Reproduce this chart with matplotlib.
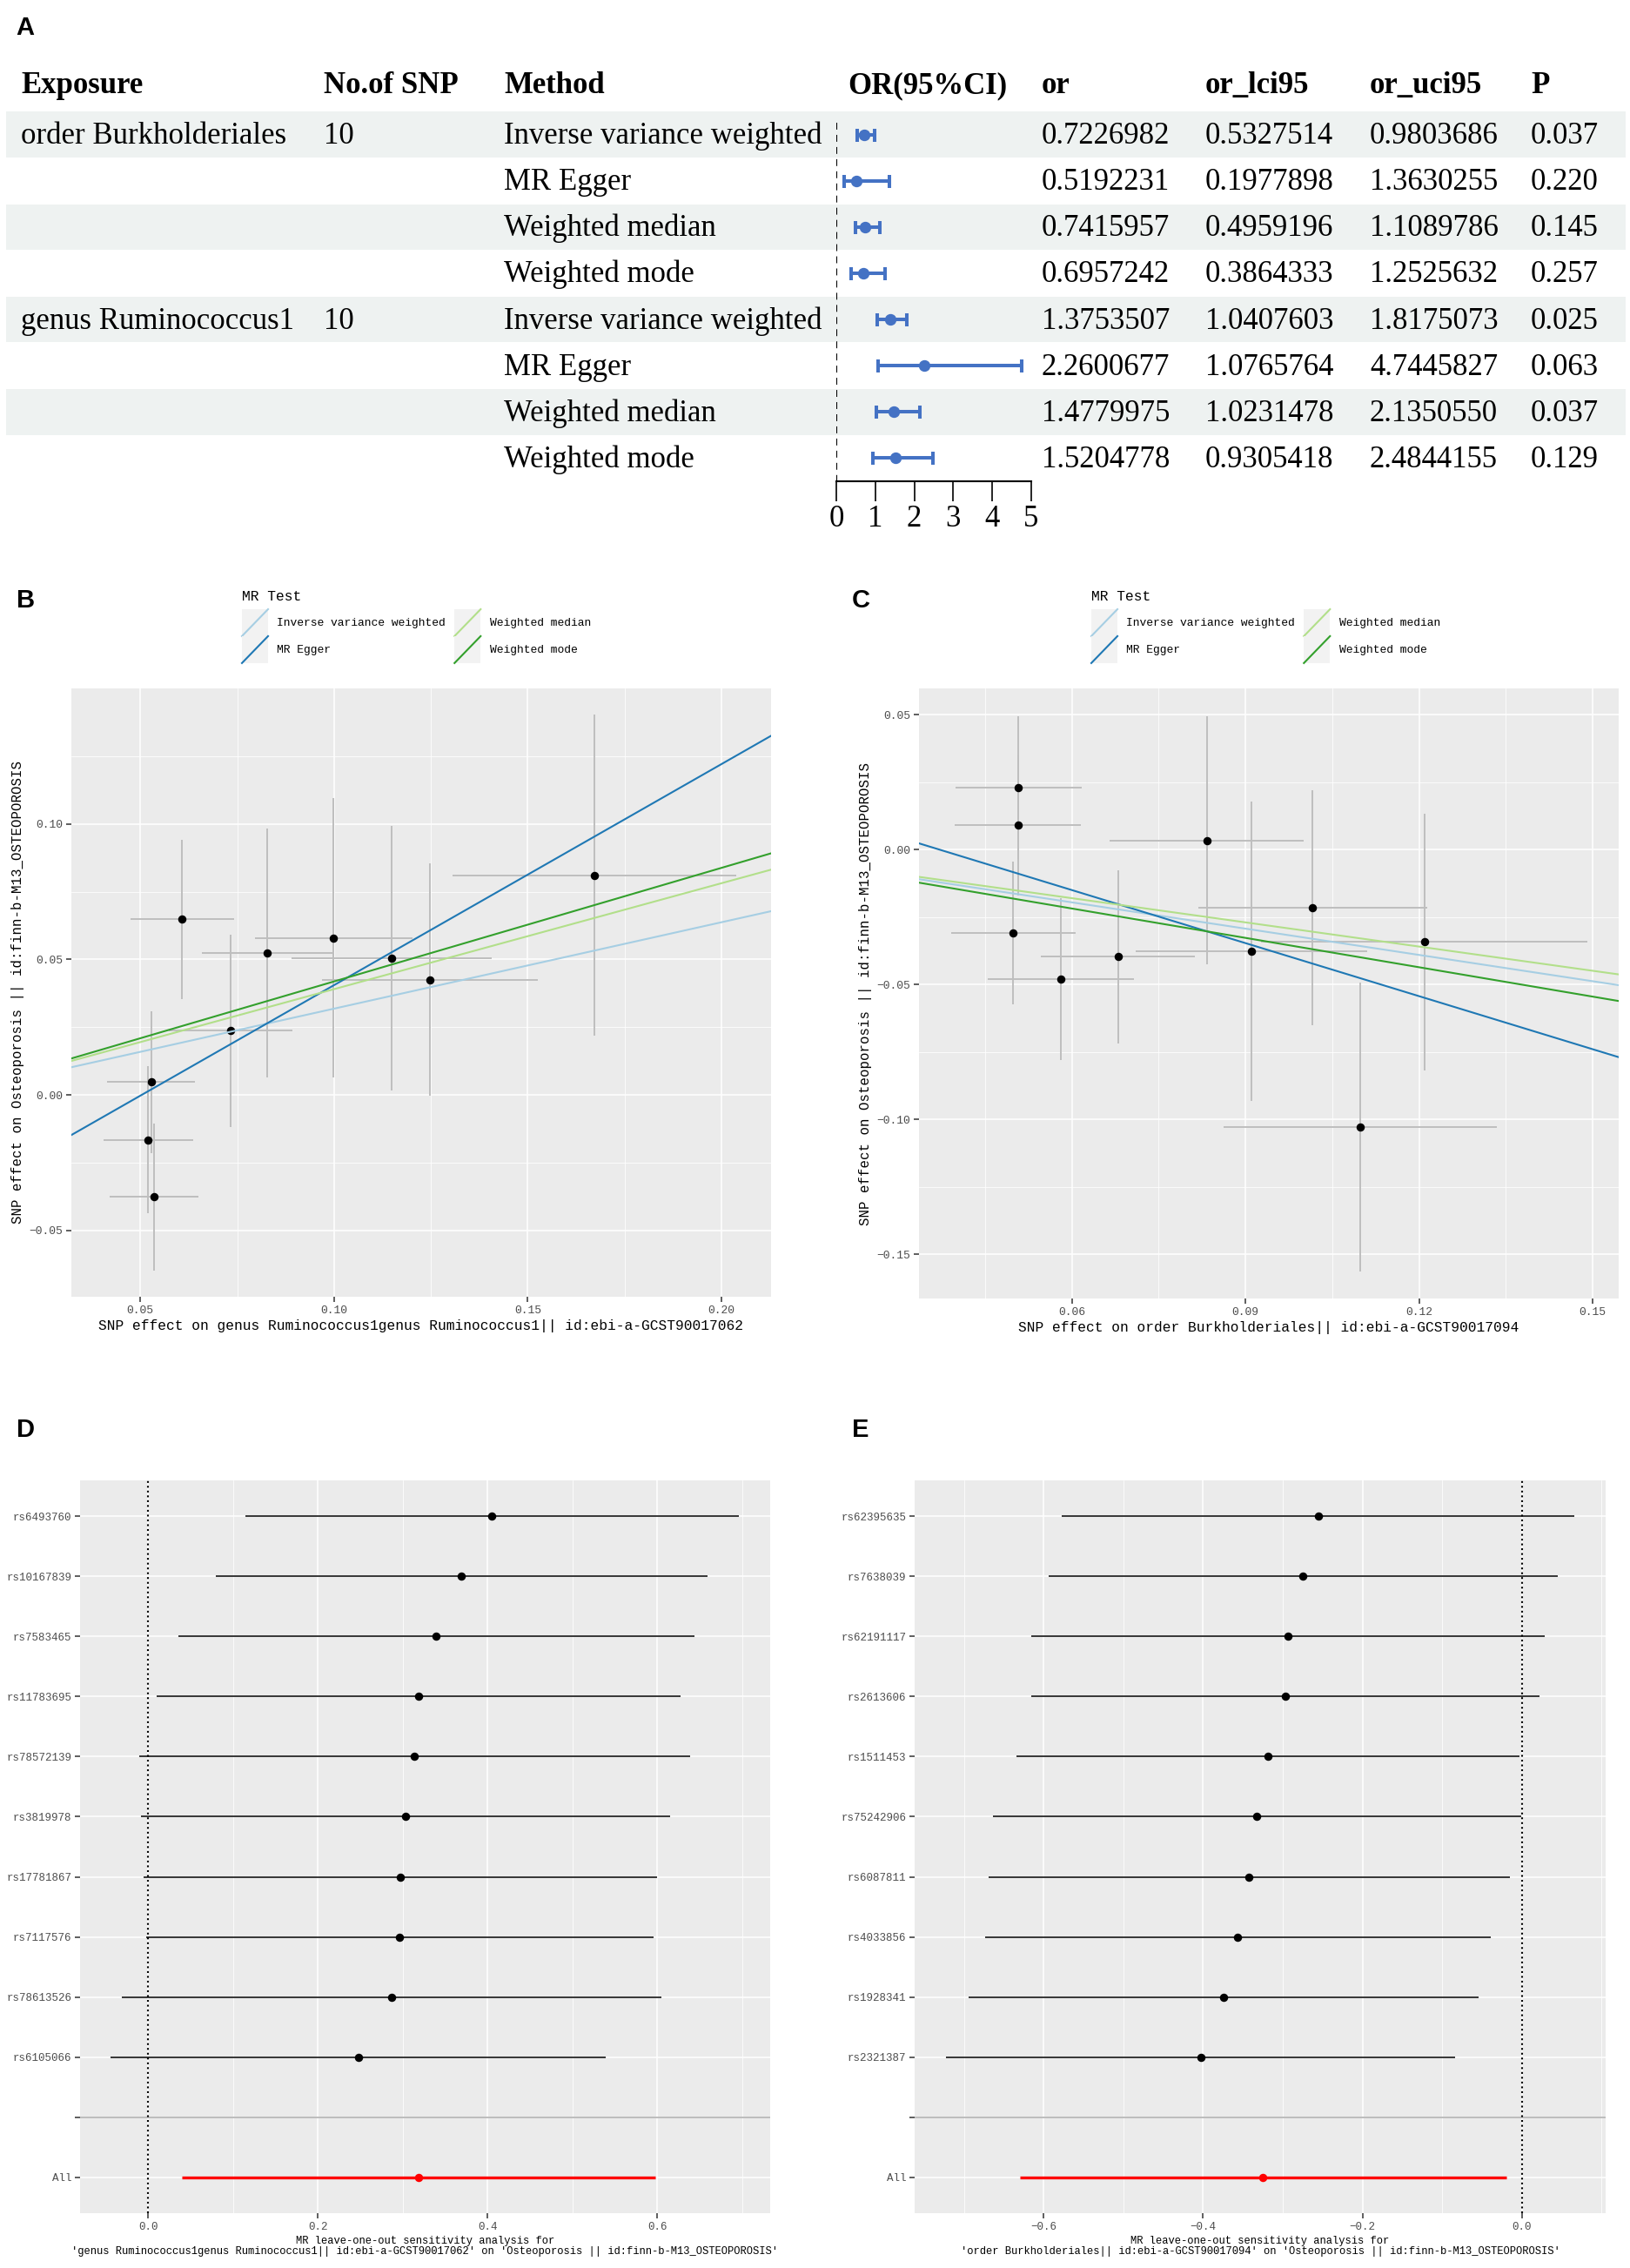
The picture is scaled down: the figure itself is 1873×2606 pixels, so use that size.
import numpy as np
import matplotlib
matplotlib.use('Agg')
import matplotlib.pyplot as plt
from matplotlib.patches import Rectangle
from matplotlib.lines import Line2D
from matplotlib.legend_handler import HandlerBase

W, H = 1874, 2606
SERIF = 'Liberation Serif'
MONO = 'Liberation Mono'
SANS = 'Liberation Sans'
BLUE = '#4472C4'
FILL = '#EEF2F1'
PANEL = '#EBEBEB'
TICK = '#4D4D4D'
MR_COLORS = ['#A6CEE3', '#1F78B4', '#B2DF8A', '#33A02C']

# ---- panel A: MR results table ----
headers = ['Exposure', 'No.of SNP', 'Method', 'OR(95%CI)', 'or', 'or_lci95', 'or_uci95', 'P']
exposures = ['order Burkholderiales', 'genus Ruminococcus1']
n_snp = [10, 10]
methods = ['Inverse variance weighted', 'MR Egger', 'Weighted median', 'Weighted mode']
or_vals = [0.7226982, 0.5192231, 0.7415957, 0.6957242,
           1.3753507, 2.2600677, 1.4779975, 1.5204778]
or_lci = [0.5327514, 0.1977898, 0.4959196, 0.3864333,
          1.0407603, 1.0765764, 1.0231478, 0.9305418]
or_uci = [0.9803686, 1.3630255, 1.1089786, 1.2525632,
          1.8175073, 4.7445827, 2.1350550, 2.4844155]
p_vals = [0.037, 0.220, 0.145, 0.257, 0.025, 0.063, 0.037, 0.129]

# ---- panel B: scatter, genus Ruminococcus1 ----
b_x = [0.0608, 0.0733, 0.0828, 0.0999, 0.1149, 0.1247, 0.1672, 0.0528, 0.0520, 0.0535]
b_xse = [0.0134, 0.0160, 0.0168, 0.0204, 0.0258, 0.0278, 0.0366, 0.0113, 0.0116, 0.0115]
b_y = [0.0648, 0.0237, 0.0524, 0.0580, 0.0504, 0.0426, 0.0811, 0.0048, -0.0165, -0.0376]
b_yse = [0.0294, 0.0356, 0.0458, 0.0515, 0.0488, 0.0429, 0.0593, 0.0261, 0.0271, 0.0272]
b_egger_int = -0.041

# ---- panel C: scatter, order Burkholderiales ----
c_x = [0.0508, 0.0507, 0.0499, 0.0581, 0.0680, 0.0833, 0.0911, 0.1016, 0.1209, 0.1098]
c_xse = [0.0109, 0.0109, 0.0108, 0.0126, 0.0133, 0.0167, 0.0200, 0.0198, 0.0282, 0.0236]
c_y = [0.0230, 0.0091, -0.0308, -0.0479, -0.0396, 0.0035, -0.0375, -0.0215, -0.0342, -0.1027]
c_yse = [0.0264, 0.0260, 0.0264, 0.0301, 0.0321, 0.0461, 0.0555, 0.0435, 0.0477, 0.0536]
c_egger_int = 0.0244

# ---- panel D: leave-one-out, genus Ruminococcus1 ----
d_snps = ['rs6493760', 'rs10167839', 'rs7583465', 'rs11783695', 'rs78572139',
          'rs3819978', 'rs17781867', 'rs7117576', 'rs78613526', 'rs6105066']
d_b = [0.4053, 0.3690, 0.3394, 0.3184, 0.3141, 0.3037, 0.2969, 0.2963, 0.2870, 0.2482]
d_lo = [0.1146, 0.0795, 0.0357, 0.0099, -0.0099, -0.0080, -0.0049, -0.0025, -0.0308, -0.0437]
d_hi = [0.6960, 0.6591, 0.6437, 0.6277, 0.6387, 0.6153, 0.5993, 0.5956, 0.6049, 0.5390]

# ---- panel E: leave-one-out, order Burkholderiales ----
e_snps = ['rs62395635', 'rs7638039', 'rs62191117', 'rs2613606', 'rs1511453',
          'rs75242906', 'rs6087811', 'rs4033856', 'rs1928341', 'rs2321387']
e_b = [-0.2557, -0.2746, -0.2935, -0.2967, -0.3183, -0.3326, -0.3424, -0.3567, -0.3744, -0.4024]
e_lo = [-0.5772, -0.5941, -0.6157, -0.6157, -0.6339, -0.6639, -0.6692, -0.6737, -0.6939, -0.7220]
e_hi = [0.0659, 0.0450, 0.0287, 0.0222, -0.0033, -0.0013, -0.0150, -0.0391, -0.0548, -0.0835]

fig = plt.figure(figsize=(W / 100, H / 100), dpi=100)
fig.patch.set_facecolor('white')


def px_axes(l, t, r, b):
    return fig.add_axes([l / W, 1 - b / H, (r - l) / W, (b - t) / H])


def minus(s):
    return s.replace('-', '\u2212')


# ================= A =================
ax_t = px_axes(0, 0, W, 620)
ax_t.set_xlim(0, W)
ax_t.set_ylim(620, 0)
ax_t.axis('off')
row_c = 154.7 + 53.1 * np.arange(len(or_vals))
for i in range(0, len(or_vals), 2):
    ax_t.add_patch(Rectangle((7, row_c[i] - 26.4), 1861, 52.8,
                             facecolor=FILL, edgecolor='none'))
col_x = [24, 372, 579, 974, 1197, 1385, 1574, 1759]
for x, h in zip(col_x, headers):
    ax_t.text(x, 107, h, fontfamily=SERIF, fontsize=25, fontweight='bold', va='baseline')
for i in range(len(or_vals)):
    yb = row_c[i] + 10.5
    if i % 4 == 0:
        ax_t.text(col_x[0], yb, exposures[i // 4], fontfamily=SERIF, fontsize=25, va='baseline')
        ax_t.text(col_x[1], yb, str(n_snp[i // 4]), fontfamily=SERIF, fontsize=25, va='baseline')
    ax_t.text(col_x[2], yb, methods[i % 4], fontfamily=SERIF, fontsize=25, va='baseline')
    for x, v in zip(col_x[4:7], (or_vals[i], or_lci[i], or_uci[i])):
        ax_t.text(x, yb, f'{v:.7f}', fontfamily=SERIF, fontsize=25, va='baseline')
    ax_t.text(col_x[7], yb, f'{p_vals[i]:.3f}', fontfamily=SERIF, fontsize=25, va='baseline')

ax_f = px_axes(961, 128, 1185, 553)
ax_f.patch.set_alpha(0)
rows = np.arange(1, len(or_vals) + 1)
ax_f.set_xlim(0, 5)
ax_f.set_ylim(len(or_vals) + 0.5, 0.5)
for s in ['top', 'left', 'right']:
    ax_f.spines[s].set_visible(False)
ax_f.spines['bottom'].set_linewidth(1.5)
ax_f.set_yticks([])
ax_f.set_xticks(range(6))
ax_f.tick_params(axis='x', direction='out', length=16.5, width=1.2, pad=3, labelsize=25)
for lab in ax_f.get_xticklabels():
    lab.set_fontfamily(SERIF)
ax_f.vlines(0, 0.75, len(or_vals) + 0.5, colors='black', linestyles=(0, (3.8, 2.9)), lw=1.5)
orv = np.array(or_vals)
ax_f.errorbar(orv, rows, xerr=[orv - np.array(or_lci), np.array(or_uci) - orv],
              fmt='o', color=BLUE, ms=8.6, elinewidth=2.9, capsize=5.4, capthick=2.9,
              clip_on=False)


# ================= B / C =================
class DiagKey(HandlerBase):
    def create_artists(self, legend, orig, xd, yd, w, h, fs, trans):
        bg = Rectangle((-xd, -yd), w, h, facecolor='#F2F2F2', edgecolor='none', transform=trans)
        ln = Line2D([-xd, -xd + w], [-yd, -yd + h], color=orig.get_color(),
                    lw=orig.get_linewidth(), transform=trans)
        return [bg, ln]


def style_ggplot(ax, xt, xtl, yt, ytl, xminor, yminor, tsize):
    ax.set_facecolor(PANEL)
    for s in ax.spines.values():
        s.set_visible(False)
    ax.set_xticks(xt)
    ax.set_xticklabels(xtl)
    ax.set_yticks(yt)
    ax.set_yticklabels(ytl)
    ax.set_xticks(xminor, minor=True)
    ax.set_yticks(yminor, minor=True)
    ax.grid(which='major', color='white', lw=1.1)
    ax.grid(which='minor', color='white', lw=0.55)
    ax.set_axisbelow(True)
    ax.tick_params(which='major', length=4, width=1.1, color='#333333', pad=3,
                   labelsize=tsize, labelcolor=TICK)
    ax.tick_params(which='minor', length=0)
    for lab in ax.get_xticklabels() + ax.get_yticklabels():
        lab.set_fontfamily(MONO)


def scatter_panel(ax, bx, bxse, by, byse, slopes, egger_int, xlim, ylim,
                  xt, yt, xminor, yminor, xlabel, leg_x):
    ax.errorbar(bx, by, xerr=bxse, yerr=byse, fmt='none', ecolor='#BEBEBE',
                elinewidth=1.4, capsize=0, zorder=2)
    ax.scatter(bx, by, s=34, color='black', zorder=3)
    handles = []
    for name, slope, col in zip(methods, slopes, MR_COLORS):
        icpt = egger_int if name == 'MR Egger' else 0.0
        handles.append(ax.axline((0, icpt), slope=slope, color=col, lw=1.5, zorder=4))
    ax.set_xlim(*xlim)
    ax.set_ylim(*ylim)
    style_ggplot(ax, xt, [f'{v:.2f}' for v in xt], yt, [minus(f'{v:.2f}') for v in yt],
                 xminor, yminor, 9.4)
    ax.set_xlabel(xlabel, fontfamily=MONO, fontsize=11.7, labelpad=3)
    ax.set_ylabel('SNP effect on Osteoporosis || id:finn-b-M13_OSTEOPOROSIS',
                  fontfamily=MONO, fontsize=11.3, labelpad=4)
    fig.text(leg_x / W, 1 - 685 / H, 'MR Test', fontfamily=MONO, fontsize=11.7,
             ha='left', va='center')
    fig.legend(handles, methods, loc='upper left', bbox_to_anchor=(leg_x / W, 1 - 700 / H),
               ncol=2, frameon=False, borderpad=0, borderaxespad=0,
               handlelength=2.3, handleheight=3.27, handletextpad=0.8,
               columnspacing=0.77, labelspacing=0.0,
               prop={'family': MONO, 'size': 9.4},
               handler_map={Line2D: DiagKey()})


ax_b = px_axes(82, 791, 886, 1490)
scatter_panel(ax_b, b_x, b_xse, b_y, b_yse, np.log(or_vals[4:8]), b_egger_int,
              (0.0322, 0.2128), (-0.0744, 0.15),
              [0.05, 0.10, 0.15, 0.20], [-0.05, 0.0, 0.05, 0.10],
              [0.075, 0.125, 0.175], [-0.025, 0.025, 0.075, 0.125],
              'SNP effect on genus Ruminococcus1genus Ruminococcus1|| id:ebi-a-GCST90017062', 278)

ax_c = px_axes(1056, 791, 1860, 1492)
scatter_panel(ax_c, c_x, c_xse, c_y, c_yse, np.log(or_vals[0:4]), c_egger_int,
              (0.0336, 0.1545), (-0.1663, 0.0598),
              [0.06, 0.09, 0.12, 0.15], [-0.15, -0.10, -0.05, 0.0, 0.05],
              [0.045, 0.075, 0.105, 0.135], [-0.125, -0.075, -0.025, 0.025],
              'SNP effect on order Burkholderiales|| id:ebi-a-GCST90017094', 1254)


# ================= D / E =================
def loo_panel(ax, snps, b, lo, hi, all_idx, xlim, xt, xminor, exposure_id):
    n = len(snps)
    pos = np.arange(1, n + 1)
    ax.axhline(n + 1, color='#BDBDBD', lw=1.4, zorder=2)
    ax.axvline(0, color='black', ls=':', lw=1.5, zorder=2)
    ax.hlines(pos, lo, hi, color='black', lw=1.1, zorder=3)
    ax.scatter(b, pos, s=34, color='black', zorder=4)
    a_b = np.log(or_vals[all_idx])
    ax.hlines(n + 2, np.log(or_lci[all_idx]), np.log(or_uci[all_idx]), color='red', lw=2.4, zorder=3)
    ax.scatter([a_b], [n + 2], s=34, color='red', zorder=4)
    ax.set_xlim(*xlim)
    ax.set_ylim(n + 2.6, 0.4)
    style_ggplot(ax, xt, [minus(f'{v:.1f}') for v in xt],
                 np.arange(1, n + 3), list(snps) + ['', 'All'], xminor, [], 9)
    ax.set_xlabel('MR leave-one-out sensitivity analysis for\n'
                  f"'{exposure_id}' on 'Osteoporosis || id:finn-b-M13_OSTEOPOROSIS'",
                  fontfamily=MONO, fontsize=8.7, labelpad=3, linespacing=1.05)


ax_d = px_axes(92, 1701, 885, 2543)
loo_panel(ax_d, d_snps, d_b, d_lo, d_hi, 4, (-0.080, 0.733),
          [0.0, 0.2, 0.4, 0.6], [0.1, 0.3, 0.5, 0.7],
          'genus Ruminococcus1genus Ruminococcus1|| id:ebi-a-GCST90017062')

ax_e = px_axes(1051, 1701, 1845, 2543)
loo_panel(ax_e, e_snps, e_b, e_lo, e_hi, 0, (-0.7618, 0.105),
          [-0.6, -0.4, -0.2, 0.0], [-0.7, -0.5, -0.3, -0.1, 0.1],
          'order Burkholderiales|| id:ebi-a-GCST90017094')

# panel letters
for letter, x, y in [('A', 29, 32), ('B', 30, 690), ('C', 989, 690), ('D', 30, 1643), ('E', 989, 1643)]:
    fig.text(x / W, 1 - y / H, letter, fontfamily=SANS, fontweight='bold', fontsize=21,
             ha='center', va='center')

fig.savefig('out.png', dpi=100, facecolor='white')
